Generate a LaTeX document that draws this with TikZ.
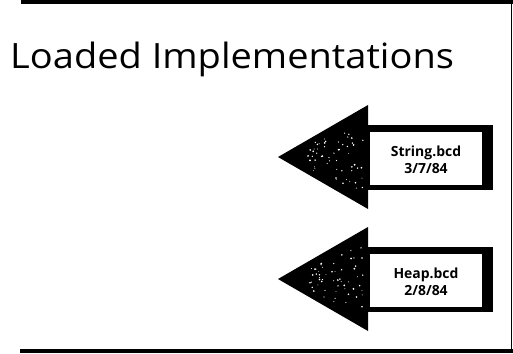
\documentclass[tikz,border=0pt]{standalone}
\usepackage{fontspec}
\setmainfont{Open Sans}
\begin{document}
\begin{tikzpicture}[x=1bp,y=-1bp,
  frameline/.style={line width=4bp,line cap=butt},
  arrowhead/.style={fill=black,draw=none},
  shaftbox/.style={fill=black,draw=none},
  labelbox/.style={fill=white,draw=none},
  labeltext/.style={font=\fontsize{14}{17.5}\selectfont\bfseries,align=center,inner sep=0pt,anchor=base},
  speck/.style={fill=white,draw=none}]
\useasboundingbox (0,0) rectangle (513,353);
% page frame
\draw[frameline] (21,2) -- (513,2);
\draw[frameline] (20,351) -- (513,351);
\draw[line width=1.8bp] (511.5,0) -- (511.5,353);
% heading
\node[anchor=base west,inner sep=0pt,font=\fontsize{35}{40}\selectfont] (title) at (10,68) {\scalebox{1.09}[1]{Loaded Implementations}};
% one arrow per loaded module: centre line, node name, label
% (the label's base anchor sits on its second line)
\foreach \cy/\nm/\txt in {157/strmod/{String.bcd\\3/7/84}, 279/heapmod/{Heap.bcd\\2/8/84}} {
  \fill[arrowhead] (278,\cy) -- (368,\cy-52) -- (368,\cy+52) -- cycle;
  \fill[shaftbox] (365,\cy-32) rectangle (493,\cy+33);
  \fill[labelbox] (370,\cy-25) rectangle (482,\cy+28);
  \node[labeltext] (\nm) at (426,\cy+16.5) {\txt};
  % halftone speckle on the arrow head
  \pgfmathsetseed{\cy}
  \foreach \k in {1,...,55} {
    \pgfmathsetmacro\px{308+55*rnd}
    \pgfmathsetmacro\hh{(\px-278)/90*52*0.7}
    \pgfmathsetmacro\py{\cy+(2*rnd-1)*\hh}
    \pgfmathsetmacro\rr{0.4+0.6*rnd}
    \fill[speck] (\px,\py) circle[radius=\rr];
  }
}
\end{tikzpicture}
\end{document}
